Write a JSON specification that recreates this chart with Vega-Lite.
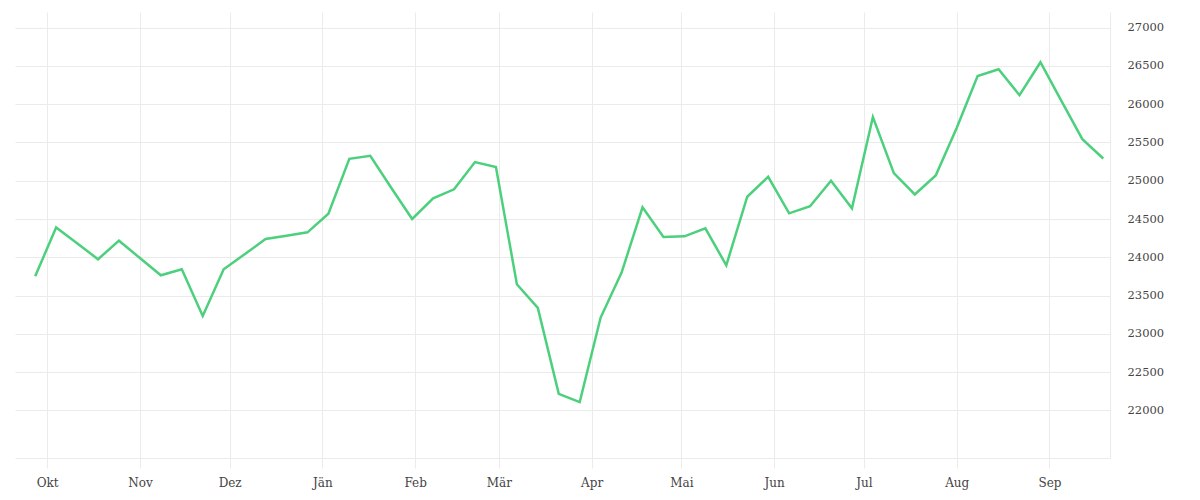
{
  "$schema": "https://vega.github.io/schema/vega-lite/v6.json",
  "width": 1095,
  "height": 446,
  "padding": {"left": 15, "top": 12, "right": 5, "bottom": 5},
  "background": "white",
  "config": {
    "view": {"stroke": null},
    "font": "DejaVu Serif"
  },
  "data": {
    "values": [
      {"date": "2020-09-27", "value": 23752},
      {"date": "2020-10-04", "value": 24390},
      {"date": "2020-10-11", "value": 24184},
      {"date": "2020-10-18", "value": 23974},
      {"date": "2020-10-25", "value": 24217},
      {"date": "2020-11-01", "value": 23990},
      {"date": "2020-11-08", "value": 23765},
      {"date": "2020-11-15", "value": 23843},
      {"date": "2020-11-22", "value": 23233},
      {"date": "2020-11-29", "value": 23843},
      {"date": "2020-12-06", "value": 24039},
      {"date": "2020-12-13", "value": 24239},
      {"date": "2020-12-20", "value": 24282},
      {"date": "2020-12-27", "value": 24326},
      {"date": "2021-01-03", "value": 24569},
      {"date": "2021-01-10", "value": 25287},
      {"date": "2021-01-17", "value": 25326},
      {"date": "2021-01-24", "value": 24909},
      {"date": "2021-01-31", "value": 24500},
      {"date": "2021-02-07", "value": 24770},
      {"date": "2021-02-14", "value": 24888},
      {"date": "2021-02-21", "value": 25244},
      {"date": "2021-02-28", "value": 25178},
      {"date": "2021-03-07", "value": 23648},
      {"date": "2021-03-14", "value": 23338},
      {"date": "2021-03-21", "value": 22216},
      {"date": "2021-03-28", "value": 22108},
      {"date": "2021-04-04", "value": 23212},
      {"date": "2021-04-11", "value": 23800},
      {"date": "2021-04-18", "value": 24653},
      {"date": "2021-04-25", "value": 24265},
      {"date": "2021-05-02", "value": 24274},
      {"date": "2021-05-09", "value": 24378},
      {"date": "2021-05-16", "value": 23895},
      {"date": "2021-05-23", "value": 24791},
      {"date": "2021-05-30", "value": 25052},
      {"date": "2021-06-06", "value": 24574},
      {"date": "2021-06-13", "value": 24666},
      {"date": "2021-06-20", "value": 25000},
      {"date": "2021-06-27", "value": 24640},
      {"date": "2021-07-04", "value": 25832},
      {"date": "2021-07-11", "value": 25099},
      {"date": "2021-07-18", "value": 24821},
      {"date": "2021-07-25", "value": 25069},
      {"date": "2021-08-01", "value": 25690},
      {"date": "2021-08-08", "value": 26369},
      {"date": "2021-08-15", "value": 26456},
      {"date": "2021-08-22", "value": 26118},
      {"date": "2021-08-29", "value": 26548},
      {"date": "2021-09-05", "value": 26043},
      {"date": "2021-09-12", "value": 25543},
      {"date": "2021-09-19", "value": 25291}
    ]
  },
  "mark": {"type": "line", "color": "#4cd07d", "strokeWidth": 2.5, "strokeJoin": "miter"},
  "encoding": {
    "x": {
      "field": "date",
      "type": "temporal",
      "title": null,
      "scale": {
        "type": "utc",
        "domain": [
          {"year": 2020, "month": 9, "date": 20, "hours": 6, "utc": true},
          {"year": 2021, "month": 9, "date": 21, "hours": 6, "utc": true}
        ]
      },
      "axis": {
        "values": [
          {"year": 2020, "month": 10, "date": 1, "utc": true},
          {"year": 2020, "month": 11, "date": 1, "utc": true},
          {"year": 2020, "month": 12, "date": 1, "utc": true},
          {"year": 2021, "month": 1, "date": 1, "utc": true},
          {"year": 2021, "month": 2, "date": 1, "utc": true},
          {"year": 2021, "month": 3, "date": 1, "utc": true},
          {"year": 2021, "month": 4, "date": 1, "utc": true},
          {"year": 2021, "month": 5, "date": 1, "utc": true},
          {"year": 2021, "month": 6, "date": 1, "utc": true},
          {"year": 2021, "month": 7, "date": 1, "utc": true},
          {"year": 2021, "month": 8, "date": 1, "utc": true},
          {"year": 2021, "month": 9, "date": 1, "utc": true}
        ],
        "labelExpr": "['Jän','Feb','Mär','Apr','Mai','Jun','Jul','Aug','Sep','Okt','Nov','Dez'][utcmonth(datum.value)]",
        "grid": true,
        "gridColor": "#ebebeb",
        "domainColor": "#ebebeb",
        "tickColor": "#ebebeb",
        "tickSize": 10,
        "labelFontSize": 12,
        "labelColor": "#444444",
        "labelPadding": 9,
        "labelFlush": false
      }
    },
    "y": {
      "field": "value",
      "type": "quantitative",
      "title": null,
      "scale": {"domain": [21377, 27205], "nice": false, "zero": false},
      "axis": {
        "orient": "right",
        "values": [22000, 22500, 23000, 23500, 24000, 24500, 25000, 25500, 26000, 26500, 27000],
        "format": "d",
        "grid": true,
        "gridColor": "#ebebeb",
        "domainColor": "#ebebeb",
        "ticks": false,
        "labelFontSize": 11.5,
        "labelColor": "#444444",
        "labelPadding": 17
      }
    }
  }
}
